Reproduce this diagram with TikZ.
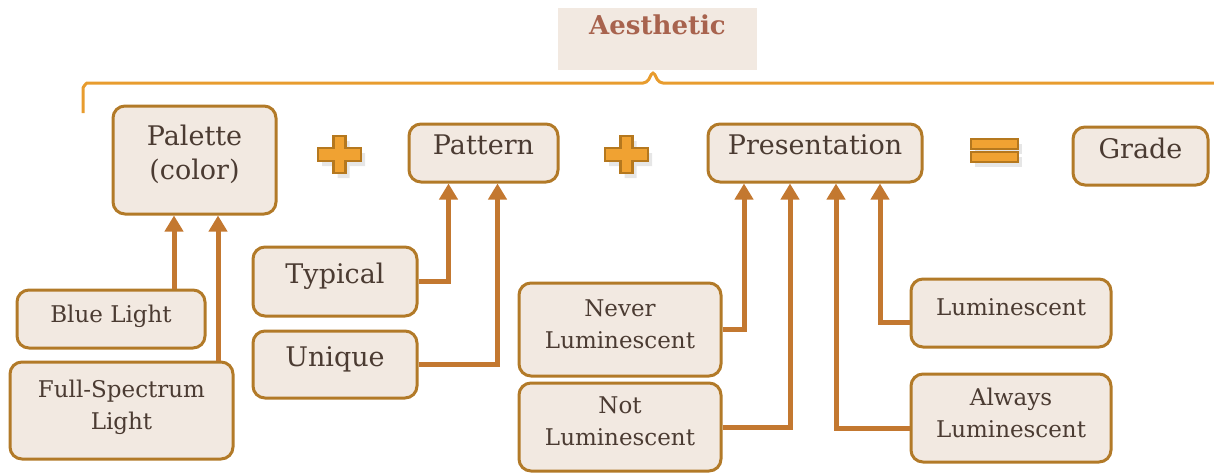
\documentclass[tikz,border=0pt]{standalone}
\usepackage{fontspec}
\setmainfont{DejaVu Serif}
\usetikzlibrary{arrows.meta,shadows}
\definecolor{boxfill}{HTML}{F2E9E1}
\definecolor{boxline}{HTML}{B27A28}
\definecolor{boxtext}{HTML}{4B3B32}
\definecolor{linkcol}{HTML}{C37830}
\definecolor{bracecol}{HTML}{E89C2E}
\definecolor{signfill}{HTML}{F0A232}
\definecolor{signline}{HTML}{B5781E}
\definecolor{titletext}{HTML}{A8634E}

\begin{document}
\begin{tikzpicture}[x=0.5pt,y=-0.5pt,
  box/.style={draw=boxline,fill=boxfill,line width=1.5pt,rounded corners=6pt,text=boxtext,align=center,inner sep=0pt},
  big/.style={box,text depth=8pt,font=\fontsize{13.5}{17}\selectfont},
  small/.style={box,text depth=5.5pt,font=\fontsize{11.5}{16}\selectfont},
  link/.style={draw=linkcol,line width=2.5pt,-{Triangle[width=9pt,length=8pt]}},
  sign/.style={draw=signline,fill=signfill,line width=1.2pt,drop shadow={opacity=0.2,shadow xshift=2pt,shadow yshift=-2.5pt}}]
\useasboundingbox (0,0) rectangle (1214,472);
\node[fill=boxfill,minimum width=99.5pt,minimum height=31pt,inner sep=0pt,text depth=14pt,text=titletext,font=\fontsize{13}{15}\selectfont\bfseries] (title) at (657.5,39) {Aesthetic};
\draw[bracecol,line width=1.5pt,rounded corners=2pt] (83,113) -- (83,92) to[out=90,in=180] (91,83) -- (647,83) -- (653,71) -- (659,83) -- (1214,83);
\node[big,minimum width=81.5pt,minimum height=54pt] (palette) at (194.5,160) {Palette\\(color)};
\node[big,minimum width=74.5pt,minimum height=29pt] (pattern) at (483.5,153) {Pattern};
\node[big,minimum width=107pt,minimum height=29pt] (present) at (815,153) {Presentation};
\node[big,minimum width=67.5pt,minimum height=29pt] (grade) at (1140.5,156) {Grade};
\node[small,minimum width=94pt,minimum height=29pt] (blue) at (111,319) {Blue Light};
\node[small,minimum width=111.5pt,minimum height=48.5pt] (full) at (121.5,410.5) {Full-Spectrum\\Light};
\node[big,minimum width=82pt,minimum height=34.5pt] (typical) at (335,281.5) {Typical};
\node[big,minimum width=82pt,minimum height=33.5pt] (unique) at (335,364.5) {Unique};
\node[small,minimum width=101pt,minimum height=46.5pt] (never) at (620,329.5) {Never\\Luminescent};
\node[small,minimum width=101pt,minimum height=44pt] (notlum) at (620,427) {Not\\Luminescent};
\node[small,minimum width=100pt,minimum height=34pt] (lum) at (1011,313) {Luminescent};
\node[small,minimum width=100pt,minimum height=44pt] (always) at (1011,418) {Always\\Luminescent};
\foreach \cx in {339.5,626.5}
  \filldraw[sign] (\cx-6,136) -- (\cx+6,136) -- (\cx+6,148) -- (\cx+21.5,148) -- (\cx+21.5,161) -- (\cx+6,161) -- (\cx+6,173) -- (\cx-6,173) -- (\cx-6,161) -- (\cx-21.5,161) -- (\cx-21.5,148) -- (\cx-6,148) -- cycle;
\filldraw[sign] (971,139) rectangle (1018,149);
\filldraw[sign] (971,152) rectangle (1018,162);
\coordinate (p1) at ([xshift=-10.25pt]palette.south);
\coordinate (p2) at ([xshift=11.75pt]palette.south);
\draw[link] (blue.north -| p1) -- (p1);
\draw[link] (full.north -| p2) -- (p2);
\draw[link] (typical.east) -| ([xshift=-17.5pt]pattern.south);
\draw[link] (unique.east) -| ([xshift=7pt]pattern.south);
\draw[link] (never.east) -| ([xshift=-35.5pt]present.south);
\draw[link] (notlum.east) -| ([xshift=-12.5pt]present.south);
\draw[link] ([yshift=-5pt]always.west) -| ([xshift=10.5pt]present.south);
\draw[link] ([yshift=-4.5pt]lum.west) -| ([xshift=32.5pt]present.south);
\end{tikzpicture}
\end{document}
